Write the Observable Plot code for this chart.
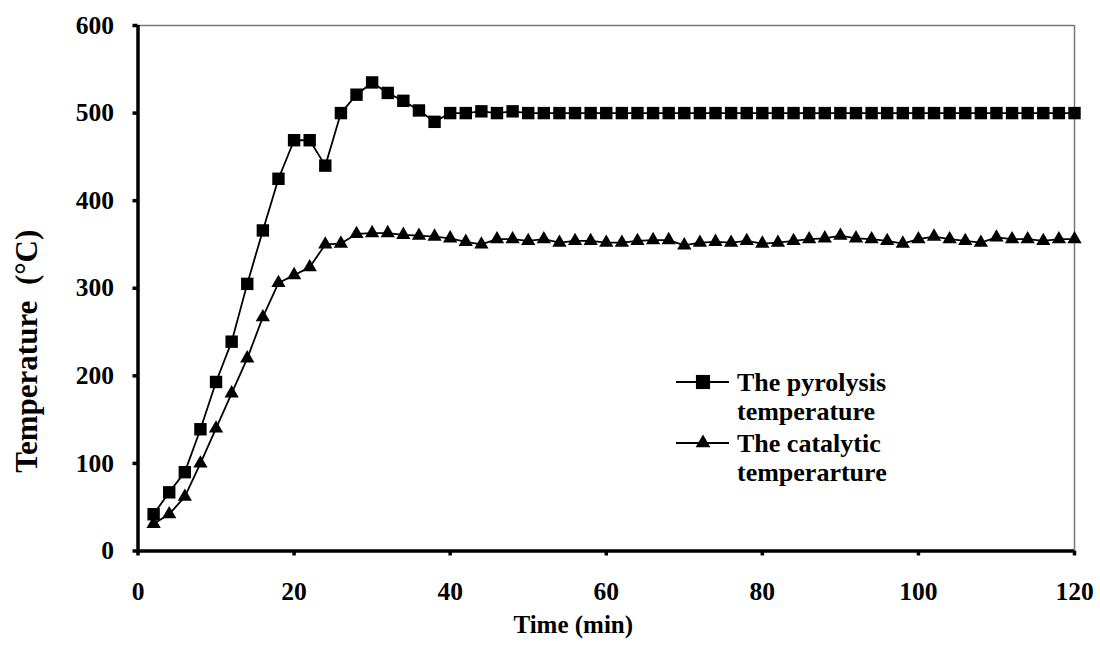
<!DOCTYPE html>
<html><head><meta charset="utf-8">
<script src="https://cdn.jsdelivr.net/npm/d3@7"></script>
<script src="https://cdn.jsdelivr.net/npm/@observablehq/plot@0.6"></script>
<style>
html,body{margin:0;padding:0;background:#fff}
#chart{width:1100px;height:646px}
</style>
</head><body><div id="chart"></div>
<script>
const time = [2,4,6,8,10,12,14,16,18,20,22,24,26,28,30,32,34,36,38,40,42,44,46,48,50,52,54,56,58,60,
  62,64,66,68,70,72,74,76,78,80,82,84,86,88,90,92,94,96,98,100,102,104,106,108,110,112,114,116,118,120];
const pyrolysis = [42,67,90,139,193,239,305,366,425,469,469,440,500,521,535,523,514,503,490,500,
  500,502,500,502,500,500,500,500,500,500,500,500,500,500,500,500,500,500,500,500,
  500,500,500,500,500,500,500,500,500,500,500,500,500,500,500,500,500,500,500,500];
const catalytic = [31,42,62,100,140,180,220,267,306,315,324,350,351,362,363,363,361,360,359,357,
  353,350,356,356,354,356,352,354,354,352,352,354,355,355,349,352,353,352,354,351,
  352,354,356,357,360,357,356,354,351,356,359,356,354,352,358,356,356,354,356,356];
const xTicks = [0,20,40,60,80,100,120];
const yTicks = [0,100,200,300,400,500,600];
const seriesLabels = [["The pyrolysis","temperature"],["The catalytic","temperarture"]];
const xTitle = "Time (min)";
const yTitle = "Temperature  (°C)";

const pyroRows = time.map((t,i)=>({t, v: pyrolysis[i]}));
const catRows = time.map((t,i)=>({t, v: catalytic[i]}));

const font = "'Liberation Serif','Times New Roman',serif";
const plot = Plot.plot({
  width: 1100, height: 646,
  marginLeft: 137.5, marginRight: 26, marginTop: 25, marginBottom: 95.5,
  style: {fontFamily: font, fontSize: "25.5px", fontWeight: "bold", color: "#000", background: "#fff"},
  x: {domain: [0,120], label: null},
  y: {domain: [0,600], label: null},
  marks: [
    Plot.ruleY([600], {stroke: "#777", strokeWidth: 1.5}),
    Plot.ruleX([120], {stroke: "#777", strokeWidth: 1.5}),
    Plot.line(pyroRows, {x: "t", y: "v", stroke: "#000", strokeWidth: 1.8}),
    Plot.line(catRows, {x: "t", y: "v", stroke: "#000", strokeWidth: 1.8}),
    Plot.dot(pyroRows, {x: "t", y: "v", symbol: "square", r: 7, fill: "#000", stroke: "none"}),
    Plot.dot(catRows, {x: "t", y: "v", symbol: "triangle", r: 5.3, fill: "#000", stroke: "none"}),
    Plot.axisX({ticks: xTicks, tickSize: 5, tickPadding: 25.5, strokeWidth: 3.5, label: null}),
    Plot.axisY({ticks: yTicks, tickSize: 5, tickPadding: 19, strokeWidth: 3.5, label: null}),
    Plot.ruleX([0], {stroke: "#000", strokeWidth: 3.5}),
    Plot.ruleY([0], {stroke: "#000", strokeWidth: 3.5}),
    Plot.text([xTitle], {frameAnchor: "bottom", dx: -33, dy: 81.5, fontSize: 25, fontWeight: "bold", fill: "#000"}),
    Plot.text([yTitle], {frameAnchor: "left", textAnchor: "middle", rotate: -90, dx: -110.5, dy: 63, fontSize: 31, fontWeight: "bold", fill: "#000"})
  ]
});
document.getElementById("chart").appendChild(plot);

// legend inside the plot area
const svg = d3.select(plot);
const lg = svg.append("g")
  .attr("font-family", font).attr("font-weight", "bold").attr("font-size", 26)
  .attr("fill", "#000").attr("text-anchor", "start");
const items = [
  {y: 382, sym: d3.symbolSquare, size: 200},
  {y: 443, sym: d3.symbolTriangle, size: 95}
];
items.forEach((it, i) => {
  lg.append("line").attr("x1", 676).attr("x2", 729).attr("y1", it.y).attr("y2", it.y)
    .attr("stroke", "#000").attr("stroke-width", 1.8);
  lg.append("path").attr("d", d3.symbol(it.sym, it.size)()).attr("transform", `translate(703,${it.y})`).attr("fill", "#000");
  lg.append("text").attr("x", 737).attr("y", it.y + 9).attr("text-anchor", "start").text(seriesLabels[i][0]);
  lg.append("text").attr("x", 737).attr("y", it.y + 38).attr("text-anchor", "start").text(seriesLabels[i][1]);
});
</script>
</body></html>
